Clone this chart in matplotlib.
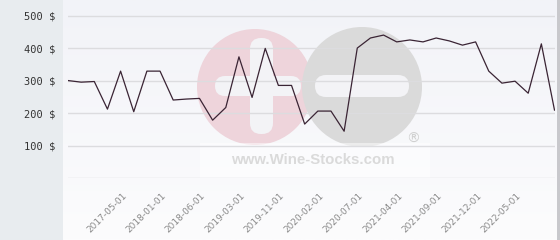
import numpy as np
import matplotlib
matplotlib.use("Agg")
import matplotlib.pyplot as plt
from matplotlib.patches import Circle, Rectangle, FancyBboxPatch
from matplotlib.transforms import ScaledTranslation

# ====================== DATA ======================
# price per auction (in $), one value per category, left to right
prices = [301, 296, 298, 213, 330, 205, 330, 330, 241, 244,
          246, 179, 218, 374, 249, 400, 286, 286, 167, 207,
          207, 145, 401, 432, 441, 420, 426, 420, 432, 423,
          410, 420, 330, 293, 299, 262, 414, 210]

# only every third category carries a visible label
tick_labels = ['2017-05-01', '2018-01-01', '2018-06-01', '2019-03-01',
               '2019-11-01', '2020-02-01', '2020-07-01', '2021-04-01',
               '2021-09-01', '2021-12-01', '2022-05-01']
first_tick = 4
tick_step = 3

y_ticks = [100, 200, 300, 400, 500]

# ====================== FIGURE ======================
W, H = 560, 240
fig = plt.figure(figsize=(W / 100, H / 100), dpi=100)

# background: grey side panel + slightly graded plot area
bg = fig.add_axes([0, 0, 1, 1], zorder=-10)
bg.set_axis_off()
bg.set_xlim(0, W)
bg.set_ylim(H, 0)
grad = np.linspace(0, 1, 100)[:, None]
cmap = matplotlib.colors.LinearSegmentedColormap.from_list('bg', ['#f2f3f8', '#fcfcfd'])
bg.imshow(grad, extent=[63, W, H, 0], cmap=cmap, aspect='auto')
bg.add_patch(Rectangle((0, 0), 63, H, color='#e8ecef', lw=0))
bg.add_patch(Rectangle((557, 0), 3, H, color='#c8c8cc', lw=0))

# watermark
bg.add_patch(Circle((255, 87), 58, color='#eed4db', lw=0))
bg.add_patch(Circle((362, 87), 60, color='#dadada', lw=0))
bg.add_patch(FancyBboxPatch((315, 75), 94, 22, boxstyle='round,pad=0,rounding_size=11',
                            color='#f3f3f6', lw=0))
bg.add_patch(FancyBboxPatch((215, 76), 86, 20, boxstyle='round,pad=0,rounding_size=10',
                            color='#f3f3f6', lw=0))
bg.add_patch(FancyBboxPatch((250, 38), 23, 96, boxstyle='round,pad=0,rounding_size=11',
                            color='#f3f3f6', lw=0))
bg.add_patch(Rectangle((200, 143), 230, 35, color='white', alpha=0.5, lw=0))
bg.text(413, 139, '®', fontsize=10, color='#d0d0d0', ha='center', va='center')
bg.text(313, 160, 'www.Wine-Stocks.com', fontsize=10.8, fontweight='bold',
        family='Liberation Sans', color='#dadada', ha='center', va='center')

# ====================== CHART ======================
ax = fig.add_axes([68 / W, 1 - 178.3 / H, (554.5 - 68) / W, 178.3 / H])
ax.patch.set_alpha(0)
x = np.arange(len(prices))
ax.plot(x, prices, color='#3a2434', lw=0.9, zorder=3)

ax.set_xlim(0, len(prices) - 1)
ax.set_ylim(0, 549)
for v in [0] + y_ticks:
    ax.axhline(v, color='#dcdcdf', lw=1, zorder=1)

ax.set_yticks(y_ticks)
ax.set_yticklabels([f'{v} $' for v in y_ticks], family='DejaVu Sans Mono',
                   fontsize=7.5, color='#333333')
ax.tick_params(axis='y', length=0, pad=9)

tick_pos = [first_tick + i * tick_step for i in range(len(tick_labels))]
ax.set_xticks(tick_pos)
ax.set_xticklabels(tick_labels, rotation=45, ha='right', va='top',
                   rotation_mode='anchor', fontsize=6.5, color='#8a8a8a')
ax.tick_params(axis='x', length=0, pad=9)
offset = ScaledTranslation(1 / 72, 0, fig.dpi_scale_trans)
for lab in ax.get_xticklabels():
    lab.set_transform(lab.get_transform() + offset)

for s in ax.spines.values():
    s.set_visible(False)

fig.savefig('out.png', dpi=100)
